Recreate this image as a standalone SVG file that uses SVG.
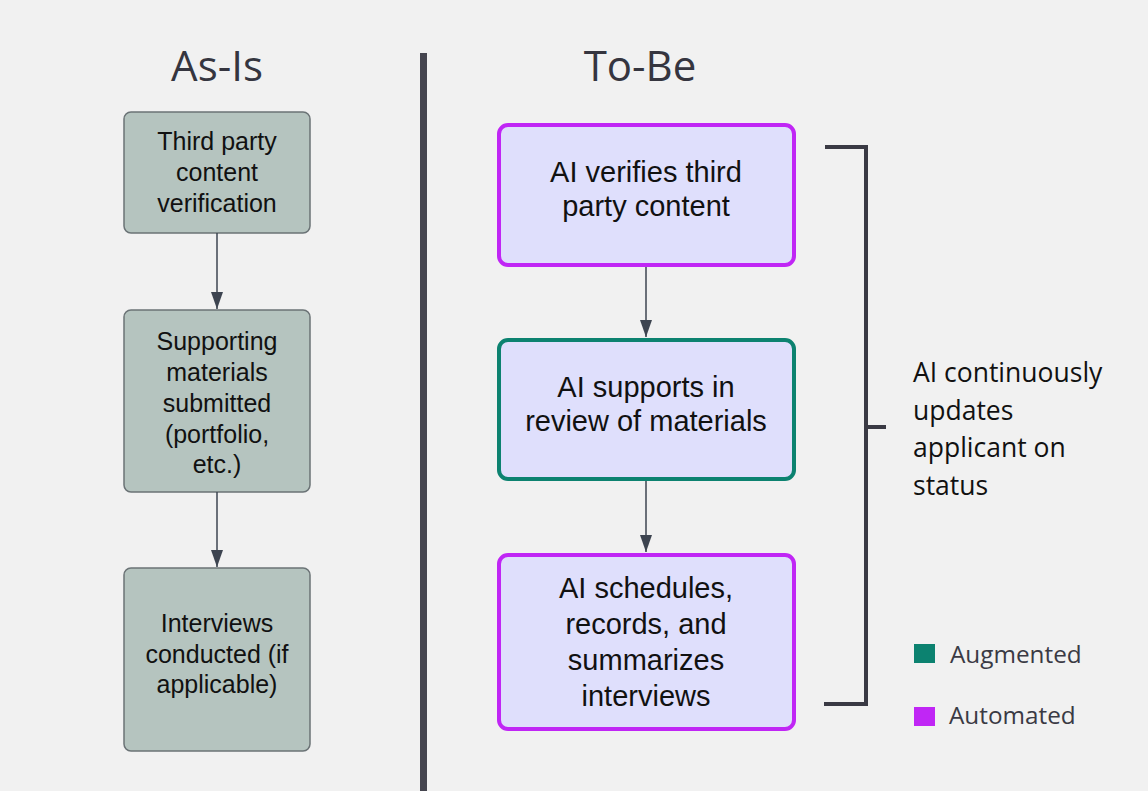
<svg xmlns="http://www.w3.org/2000/svg" width="1148" height="791" viewBox="0 0 1148 791">
  <defs>
    <marker id="arrow" viewBox="0 0 17 12" refX="17" refY="6" markerWidth="17" markerHeight="12" markerUnits="userSpaceOnUse" orient="auto">
      <path d="M0,0 L17,6 L0,12 z" fill="#3d4450"/>
    </marker>
    <style>
      .heading { font-family: "Open Sans", "Noto Sans", sans-serif; font-size: 42px; fill: #35353f; text-anchor: middle; }
      .asis rect { fill: #b5c4bf; stroke: #6b7376; stroke-width: 1.5; }
      .tobe rect { fill: #dfdffc; stroke-width: 4; }
      .auto rect { stroke: #c026f5; }
      .aug rect { stroke: #0c8270; }
      .ltxt { font-family: "Liberation Sans", Arial, sans-serif; font-size: 25px; fill: #111; text-anchor: middle; }
      .rtxt { font-family: "Liberation Sans", Arial, sans-serif; font-size: 29px; fill: #111; text-anchor: middle; }
      .note { font-family: "Open Sans", "Noto Sans", sans-serif; font-size: 26.5px; fill: #111; }
      .legend { font-family: "Open Sans", "Noto Sans", sans-serif; font-size: 24.3px; fill: #3a3a44; }
      .conn line { stroke: #3d4450; stroke-width: 1.5; fill: none; }
      .bracket { stroke: #3a3a44; stroke-width: 4; fill: none; }
    </style>
  </defs>
  <rect x="0" y="0" width="1148" height="791" fill="#f1f1f1"/>

  <text class="heading" x="217" y="81">As-Is</text>
  <text class="heading" x="640" y="81">To-Be</text>

  <rect id="divider" x="420" y="53" width="7" height="740" fill="#45454f"/>

  <g id="asis-1" class="asis">
    <rect x="124" y="112" width="186" height="121" rx="7"/>
    <text class="ltxt" x="217" y="150">Third party</text>
    <text class="ltxt" x="217" y="181">content</text>
    <text class="ltxt" x="217" y="212">verification</text>
  </g>
  <g id="asis-2" class="asis">
    <rect x="124" y="310" width="186" height="182" rx="7"/>
    <text class="ltxt" x="217" y="350">Supporting</text>
    <text class="ltxt" x="217" y="381">materials</text>
    <text class="ltxt" x="217" y="412">submitted</text>
    <text class="ltxt" x="217" y="443">(portfolio,</text>
    <text class="ltxt" x="217" y="473">etc.)</text>
  </g>
  <g id="asis-3" class="asis">
    <rect x="124" y="568" width="186" height="183" rx="7"/>
    <text class="ltxt" x="217" y="632">Interviews</text>
    <text class="ltxt" x="217" y="663">conducted (if</text>
    <text class="ltxt" x="217" y="693">applicable)</text>
  </g>

  <g id="tobe-1" class="tobe auto">
    <rect x="499" y="125" width="295" height="140" rx="9"/>
    <text class="rtxt" x="646" y="182">AI verifies third</text>
    <text class="rtxt" x="646" y="216">party content</text>
  </g>
  <g id="tobe-2" class="tobe aug">
    <rect x="499" y="340" width="295" height="139" rx="9"/>
    <text class="rtxt" x="646" y="397">AI supports in</text>
    <text class="rtxt" x="646" y="431">review of materials</text>
  </g>
  <g id="tobe-3" class="tobe auto">
    <rect x="499" y="555" width="295" height="174" rx="9"/>
    <text class="rtxt" x="646" y="598">AI schedules,</text>
    <text class="rtxt" x="646" y="634">records, and</text>
    <text class="rtxt" x="646" y="670">summarizes</text>
    <text class="rtxt" x="646" y="706">interviews</text>
  </g>

  <g id="connectors" class="conn">
    <line x1="217" y1="233" x2="217" y2="309" marker-end="url(#arrow)"/>
    <line x1="217" y1="492" x2="217" y2="567" marker-end="url(#arrow)"/>
    <line x1="646" y1="267" x2="646" y2="337" marker-end="url(#arrow)"/>
    <line x1="646" y1="481" x2="646" y2="552" marker-end="url(#arrow)"/>
  </g>

  <g id="status-note">
    <path class="bracket" d="M825,147 H866 V704 H824 M866,427 H886"/>
    <text class="note" x="913" y="382">AI continuously</text>
    <text class="note" x="913" y="420">updates</text>
    <text class="note" x="913" y="457">applicant on</text>
    <text class="note" x="913" y="495">status</text>
  </g>

  <g id="legend">
    <rect x="914" y="644" width="21" height="19" fill="#0c8270"/>
    <text class="legend" x="950" y="663">Augmented</text>
    <rect x="914" y="707" width="21" height="19" fill="#c026f5"/>
    <text class="legend" x="949" y="724">Automated</text>
  </g>
</svg>
